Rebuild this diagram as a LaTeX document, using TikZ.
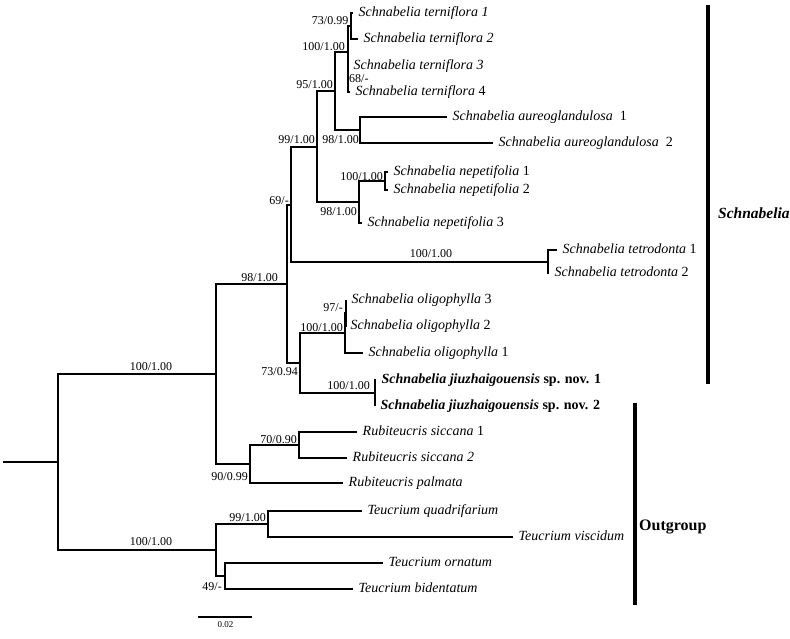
\documentclass[tikz,border=0pt]{standalone}
\usepackage{fontspec}
\setmainfont{Liberation Serif}
\begin{document}
\begin{tikzpicture}[x=1pt,y=-1pt,
  branch/.style={line width=2pt},
  cladebar/.style={line width=3.8pt},
  taxon/.style={anchor=west, inner xsep=5.5pt, inner ysep=0pt,
    font=\fontsize{14}{14}\selectfont, text height=10pt, text depth=3pt},
  sup/.style={inner sep=0pt, font=\fontsize{12}{12}\selectfont,
    text height=8.5pt, text depth=0.5pt},
  supl/.style={sup, anchor=east},
  cladename/.style={anchor=west, inner sep=0pt, font=\bfseries\fontsize{15.5}{15.5}\selectfont}
]
\useasboundingbox (0,0) rectangle (790,638);

% ---------- internal nodes ----------
\coordinate (root)  at (58,462);
\coordinate (nS)    at (216,374);
\coordinate (nT)    at (216,550);
\coordinate (n98c)  at (287,284);
\coordinate (n69)   at (291,205);
\coordinate (n99)   at (317,147);
\coordinate (n95)   at (335,91);
\coordinate (n100a) at (348,52);
\coordinate (n73)   at (351,26);
\coordinate (n68)   at (348,79);
\coordinate (n98a)  at (360,130);
\coordinate (n98b)  at (359,202);
\coordinate (n100b) at (385,181);
\coordinate (n100t) at (548,262);
\coordinate (n73b)  at (300,363);
\coordinate (n100o) at (345,333);
\coordinate (n97)   at (346,313);
\coordinate (n100j) at (375,393);
\coordinate (n90)   at (250,464);
\coordinate (n70)   at (299,445);
\coordinate (n99t)  at (268,524);
\coordinate (n49)   at (225,576);
\coordinate (rootstub) at (3,462);

% ---------- taxa ----------
\node[taxon] (t1) at (353,13)  {\itshape Schnabelia terniflora 1};
\node[taxon] (t2) at (358,39)  {\itshape Schnabelia terniflora 2};
\node[taxon] (t3) at (348,66)  {\itshape Schnabelia terniflora 3};
\node[taxon] (t4) at (350,92)  {\textit{Schnabelia terniflora} 4};
\node[taxon] (a1) at (447,117) {\textit{Schnabelia aureoglandulosa}\ \ 1};
\node[taxon] (a2) at (493,143) {\textit{Schnabelia aureoglandulosa}\ \ 2};
\node[taxon] (p1) at (388,172) {\textit{Schnabelia nepetifolia} 1};
\node[taxon] (p2) at (388,190) {\textit{Schnabelia nepetifolia} 2};
\node[taxon] (p3) at (362,223) {\textit{Schnabelia nepetifolia} 3};
\node[taxon] (d1) at (557,250) {\textit{Schnabelia tetrodonta} 1};
\node[taxon] (d2) at (549,273) {\textit{Schnabelia tetrodonta} 2};
\node[taxon] (o3) at (346,300) {\textit{Schnabelia oligophylla} 3};
\node[taxon] (o2) at (345,326) {\textit{Schnabelia oligophylla} 2};
\node[taxon] (o1) at (363,353) {\textit{Schnabelia oligophylla} 1};
\node[taxon] (j1) at (376,380) {\bfseries\textit{Schnabelia jiuzhaigouensis} sp. nov. 1};
\node[taxon] (j2) at (375,406) {\bfseries\textit{Schnabelia jiuzhaigouensis} sp. nov. 2};
\node[taxon] (r1) at (357,432) {\textit{Rubiteucris siccana} 1};
\node[taxon] (r2) at (347,458) {\itshape Rubiteucris siccana 2};
\node[taxon] (r3) at (343,483) {\itshape Rubiteucris palmata};
\node[taxon] (u1) at (362,511) {\itshape Teucrium quadrifarium};
\node[taxon] (u2) at (513,537) {\itshape Teucrium viscidum};
\node[taxon] (u3) at (383,563) {\itshape Teucrium ornatum};
\node[taxon] (u4) at (353,589) {\itshape Teucrium bidentatum};

% ---------- branches ----------
\begin{scope}[branch]
\draw (rootstub) -- (root);
\draw (root) |- (nS);
\draw (root) |- (nT);
\draw (nS) |- (n98c);
\draw (nS) |- (n90);
\draw (n98c) |- (n69);
\draw (n98c) |- (n73b);
\draw (n69) |- (n99);
\draw (n69) |- (n100t);
\draw (n99) |- (n95);
\draw (n99) |- (n98b);
\draw (n95) |- (n100a);
\draw (n95) |- (n98a);
\draw (n100a) |- (n73);
\draw (n100a) |- (n68);
\draw (n73) |- (t1.west);
\draw (n73) |- (t2.west);
\draw (n68) |- (t3.west);
\draw (n68) |- (t4.west);
\draw (n98a) |- (a1.west);
\draw (n98a) |- (a2.west);
\draw (n98b) |- (n100b);
\draw (n98b) |- (p3.west);
\draw (n100b) |- (p1.west);
\draw (n100b) |- (p2.west);
\draw (n100t) |- (d1.west);
\draw (n100t) |- (d2.west);
\draw (n73b) |- (n100o);
\draw (n73b) |- (n100j);
\draw (n100o) |- (n97);
\draw (n100o) |- (o1.west);
\draw (n97) |- (o3.west);
\draw (n97) |- (o2.west);
\draw (n100j) |- (j1.west);
\draw (n100j) |- (j2.west);
\draw (n90) |- (n70);
\draw (n90) |- (r3.west);
\draw (n70) |- (r1.west);
\draw (n70) |- (r2.west);
\draw (nT) |- (n99t);
\draw (nT) |- (n49);
\draw (n99t) |- (u1.west);
\draw (n99t) |- (u2.west);
\draw (n49) |- (u3.west);
\draw (n49) |- (u4.west);
\end{scope}

% ---------- support values (bootstrap / posterior) ----------
\node[supl] (s73)   at (348.5,20)  {73/0.99};
\node[sup, anchor=west] (s68) at (349,78) {68/-};
\node[supl] (s100a) at (345,46)    {100/1.00};
\node[supl] (s95)   at (333,84)    {95/1.00};
\node[supl] (s98a)  at (359,139)   {98/1.00};
\node[supl] (s99)   at (315,139)   {99/1.00};
\node[supl] (s100b) at (383,176)   {100/1.00};
\node[supl] (s98b)  at (357,211)   {98/1.00};
\node[supl] (s69)   at (289,200)   {69/-};
\node[sup]  (s100t) at (431,253)   {100/1.00};
\node[supl] (s97)   at (343,307)   {97/-};
\node[supl] (s100o) at (343,327)   {100/1.00};
\node[supl] (s73b)  at (298,371)   {73/0.94};
\node[supl] (s100j) at (370,385)   {100/1.00};
\node[supl] (s98c)  at (278,277)   {98/1.00};
\node[supl] (s70)   at (297,439)   {70/0.90};
\node[supl] (s90)   at (248,476)   {90/0.99};
\node[sup]  (sS)    at (151,366)   {100/1.00};
\node[supl] (s99t)  at (266,517)   {99/1.00};
\node[supl] (s49)   at (222,586)   {49/-};
\node[sup]  (sT)    at (151,541)   {100/1.00};

% ---------- clade bars ----------
\coordinate (barStop) at (708,5);
\coordinate (barSbot) at (708,384);
\coordinate (barOtop) at (635,403);
\coordinate (barObot) at (635,605);
\draw[cladebar] (barStop) -- (barSbot);
\draw[cladebar] (barOtop) -- (barObot);
\node[cladename] (cS) at (718,213) {\itshape Schnabelia};
\node[cladename, font=\bfseries\fontsize{16}{16}\selectfont] (cO) at (639,527) {Outgroup};

% ---------- scale bar ----------
\coordinate (sbL) at (198,617);
\coordinate (sbR) at (252,617);
\draw[line width=1.5pt] (sbL) -- (sbR);
\node[inner sep=0pt, font=\fontsize{9}{9}\selectfont] (sbT) at (225.5,624.5) {0.02};
\end{tikzpicture}
\end{document}
